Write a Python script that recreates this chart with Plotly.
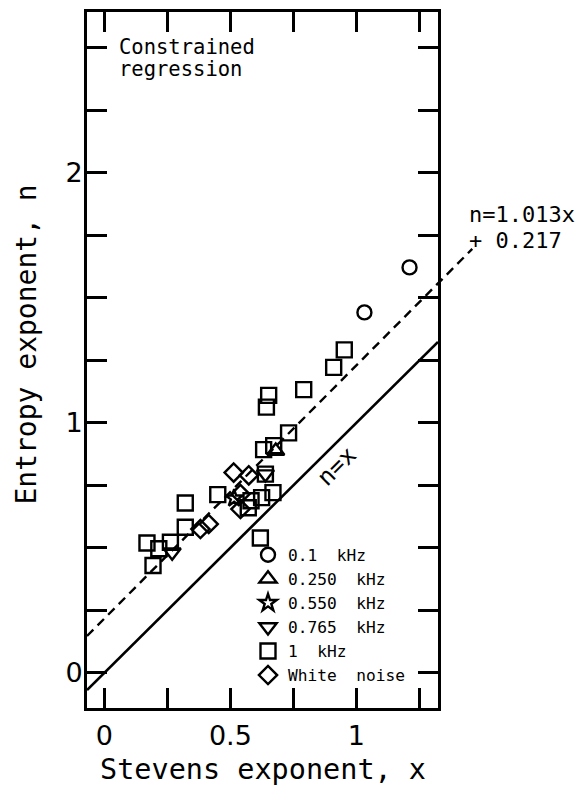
import plotly.graph_objects as go

# ---------------- data ----------------
x_01k = [1.211, 1.032]
y_01k = [1.622, 1.442]

x_025k = [0.680]
y_025k = [0.887]

x_055k = [0.515]
y_055k = [0.698]

x_0765k = [0.639, 0.269]
y_0765k = [0.795, 0.482]

x_1k = [0.169, 0.216, 0.262, 0.193, 0.321, 0.321, 0.450, 0.582, 0.624, 0.669,
        0.571, 0.619, 0.632, 0.672, 0.731, 0.643, 0.652, 0.791, 0.910, 0.952, 0.639]
y_1k = [0.519, 0.496, 0.522, 0.429, 0.582, 0.679, 0.713, 0.688, 0.701, 0.721,
        0.660, 0.539, 0.893, 0.909, 0.960, 1.063, 1.110, 1.133, 1.222, 1.292, 0.795]

x_wn = [0.513, 0.573, 0.540, 0.540, 0.381, 0.414]
y_wn = [0.801, 0.790, 0.715, 0.655, 0.575, 0.595]

fit_slope = 1.013
fit_intercept = 0.217

x_tickvals = [0, 0.25, 0.5, 0.75, 1.0, 1.25]
x_ticktext = ["0", "", "0.5", "", "1", ""]
y_tickvals = [0, 0.25, 0.5, 0.75, 1.0, 1.25, 1.5, 1.75, 2.0, 2.25, 2.5]
y_ticktext = ["0", "", "", "", "1", "", "", "", "2", "", ""]

x_range = [-0.069, 1.324]
y_range = [-0.141, 2.644]
fit_line_x_end = 1.46

# ---------------- figure ----------------
MONO = "DejaVu Sans Mono"
SANS = "DejaVu Sans"

# page body has an 8px margin; figure is sized so the plot frame lands
# at x 87..438, y 9..708 in the 587x789 window
W, H = 579, 781
ML, MR, MT, MB = 79, 149, 1, 81
PW, PH = W - ML - MR, H - MT - MB
OFF = 8


def px_to_paper_x(px):
    return (px - OFF - ML) / PW


def px_to_paper_y(py):
    return (H - MB - (py - OFF)) / PH


fig = go.Figure()

# identity line n = x
fig.add_trace(go.Scatter(x=x_range, y=x_range, mode="lines",
                         line=dict(color="black", width=2.6),
                         showlegend=False, hoverinfo="skip"))

series = [
    ("0.1  kHz", x_01k, y_01k, "circle-open", 14),
    ("0.250  kHz", x_025k, y_025k, "triangle-up-open", 15),
    ("0.550  kHz", x_055k, y_055k, "star-open", 13),
    ("0.765  kHz", x_0765k, y_0765k, "triangle-down-open", 15),
    ("1  kHz", x_1k, y_1k, "square-open", 15),
    ("White  noise", x_wn, y_wn, "diamond-open", 14),
]
for name, xs, ys, sym, size in series:
    fig.add_trace(go.Scatter(
        x=xs, y=ys, mode="markers", name=name,
        marker=dict(symbol=sym, size=size, color="black",
                    line=dict(color="black", width=2.4)),
    ))


# dashed regression line (extends beyond the frame up to its label)
def to_paper_x(v):
    return (v - x_range[0]) / (x_range[1] - x_range[0])


def to_paper_y(v):
    return (v - y_range[0]) / (y_range[1] - y_range[0])


fx0, fx1 = x_range[0], fit_line_x_end
fig.add_shape(type="line", xref="paper", yref="paper",
              x0=to_paper_x(fx0), y0=to_paper_y(fit_slope * fx0 + fit_intercept),
              x1=to_paper_x(fx1), y1=to_paper_y(fit_slope * fx1 + fit_intercept),
              line=dict(color="black", width=2.4, dash="9px,6px"))

axis_common = dict(
    showline=True, linecolor="black", linewidth=3, mirror="ticks",
    ticks="inside", ticklen=20, tickwidth=2.5, tickcolor="black",
    showgrid=False, zeroline=False,
    tickfont=dict(family=SANS, size=27, color="black"),
)

fig.update_xaxes(range=x_range, tickvals=x_tickvals, ticktext=x_ticktext,
                 ticklabelstandoff=2, **axis_common)
fig.update_yaxes(range=y_range, tickvals=y_tickvals, ticktext=y_ticktext,
                 ticklabelstandoff=-4, **axis_common)

annotations = [
    dict(text="Stevens exponent, x", xref="paper", yref="paper", x=0.5,
         y=px_to_paper_y(770), xanchor="center", yanchor="middle", showarrow=False,
         font=dict(family=MONO, size=28.5, color="black")),
    dict(text="Entropy exponent, n", xref="paper", yref="paper", x=px_to_paper_x(27),
         y=px_to_paper_y(343), xanchor="center", yanchor="middle", textangle=-90,
         showarrow=False, font=dict(family=MONO, size=28, color="black")),
    dict(text="Constrained", xref="paper", yref="paper", x=px_to_paper_x(117),
         y=px_to_paper_y(44), xanchor="left", yanchor="middle", showarrow=False,
         font=dict(family=MONO, size=20.5, color="black")),
    dict(text="regression", xref="paper", yref="paper", x=px_to_paper_x(117),
         y=px_to_paper_y(66), xanchor="left", yanchor="middle", showarrow=False,
         font=dict(family=MONO, size=20.5, color="black")),
    dict(text="n=1.013x", xref="paper", yref="paper", x=px_to_paper_x(467),
         y=px_to_paper_y(212), xanchor="left", yanchor="middle", showarrow=False,
         font=dict(family=MONO, size=22, color="black")),
    dict(text="+ 0.217", xref="paper", yref="paper", x=px_to_paper_x(467),
         y=px_to_paper_y(238), xanchor="left", yanchor="middle", showarrow=False,
         font=dict(family=MONO, size=22, color="black")),
    dict(text="n=x", xref="x", yref="y", x=0.923, y=0.827, textangle=-45,
         xanchor="center", yanchor="middle", showarrow=False,
         font=dict(family=MONO, size=24, color="black")),
]

fig.update_layout(
    width=W, height=H,
    margin=dict(l=ML, r=MR, t=MT, b=MB),
    paper_bgcolor="white", plot_bgcolor="white",
    showlegend=True,
    legend=dict(x=px_to_paper_x(248), y=px_to_paper_y(537), xanchor="left", yanchor="top",
                bgcolor="rgba(0,0,0,0)", borderwidth=0,
                font=dict(family=MONO, size=16.2, color="black"),
                itemsizing="trace", tracegroupgap=0),
    annotations=annotations,
)

fig.write_html("out.html")
